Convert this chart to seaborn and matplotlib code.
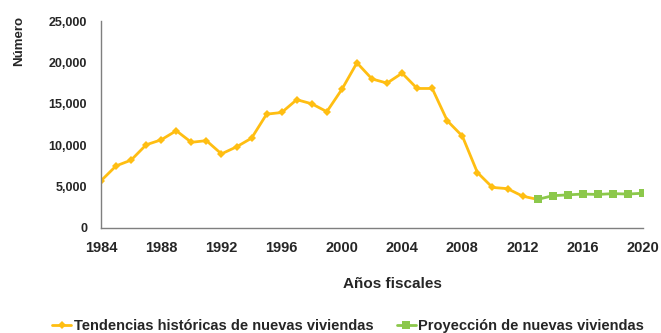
import matplotlib
matplotlib.use("Agg")
import matplotlib.pyplot as plt
import seaborn as sns
import pandas as pd

# Historical new-home counts by fiscal year
hist_years = list(range(1984, 2014))
hist_values = [5700, 7500, 8200, 10050, 10650, 11750, 10350, 10550, 8950, 9800,
               10850, 13750, 13950, 15500, 15000, 14050, 16750, 19950, 18000, 17500,
               18700, 16850, 16850, 12950, 11100, 6700, 4900, 4750, 3850, 3450]

# Projected new-home counts
proj_years = list(range(2013, 2021))
proj_values = [3450, 3900, 4000, 4100, 4050, 4150, 4100, 4200]

hist_label = "Tendencias históricas de nuevas viviendas"
proj_label = "Proyección de nuevas viviendas"

x_ticks = [1984, 1988, 1992, 1996, 2000, 2004, 2008, 2012, 2016, 2020]
y_ticks = [0, 5000, 10000, 15000, 20000, 25000]

df = pd.concat([
    pd.DataFrame({"Año": hist_years, "Número": hist_values, "Serie": hist_label}),
    pd.DataFrame({"Año": proj_years, "Número": proj_values, "Serie": proj_label}),
], ignore_index=True)

sns.set_theme(style="white")
plt.rcParams["font.family"] = ["Liberation Sans", "DejaVu Sans"]
plt.rcParams["font.weight"] = "bold"

gold = "#FFBE12"
green = "#8CC84B"
text_color = "#262626"
spine_color = "#7F7F7F"

W, H = 661, 333
fig = plt.figure(figsize=(W / 100, H / 100), dpi=100)
ax = fig.add_axes([101 / W, (H - 228) / H, (643 - 101) / W, (228 - 21) / H])

sns.lineplot(data=df, x="Año", y="Número", hue="Serie", style="Serie",
             palette={hist_label: gold, proj_label: green},
             markers={hist_label: "D", proj_label: "s"},
             dashes=False, linewidth=2, markersize=5, markeredgewidth=0,
             ax=ax, legend=True)

# Smaller diamonds, slightly larger squares
marker_sizes = {"D": 4.0, "s": 5.2}
for line in ax.get_lines():
    m = line.get_marker()
    if m in marker_sizes:
        line.set_markersize(marker_sizes[m])

ax.set_xlim(1984, 2020)
ax.set_ylim(0, 25000)
ax.set_xticks(x_ticks)
ax.set_yticks(y_ticks)
ax.set_yticklabels([f"{v:,}" for v in y_ticks])
ax.tick_params(axis="x", length=0, pad=9, labelsize=10.5, labelcolor=text_color)
ax.tick_params(axis="y", length=0, pad=10, labelsize=9, labelcolor=text_color)
for lbl in ax.get_xticklabels() + ax.get_yticklabels():
    lbl.set_fontweight("bold")

for side in ["top", "right"]:
    ax.spines[side].set_visible(False)
for side in ["left", "bottom"]:
    ax.spines[side].set_color(spine_color)
    ax.spines[side].set_linewidth(1.0)

ax.set_xlabel("")
ax.set_ylabel("")
fig.text(19 / W, 1 - 41 / H, "Número", rotation=90, ha="center", va="center",
         fontsize=9.5, fontweight="bold", color=text_color)
fig.text(392 / W, 1 - 284 / H, "Años fiscales", ha="center", va="center",
         fontsize=11, fontweight="bold", color=text_color)

handles, labels = ax.get_legend_handles_labels()
ax.get_legend().remove()
leg = fig.legend(handles, labels, loc="center", bbox_to_anchor=(348 / W, 1 - 326 / H),
                 ncol=2, frameon=False, fontsize=10.5, handlelength=1.3,
                 handletextpad=0.15, columnspacing=1.6, borderpad=0)
for t in leg.get_texts():
    t.set_fontweight("bold")
    t.set_color(text_color)
for h in leg.legend_handles:
    m = h.get_marker()
    if m in marker_sizes:
        h.set_markersize(marker_sizes[m])

fig.savefig("out.png", dpi=100, facecolor="white")
